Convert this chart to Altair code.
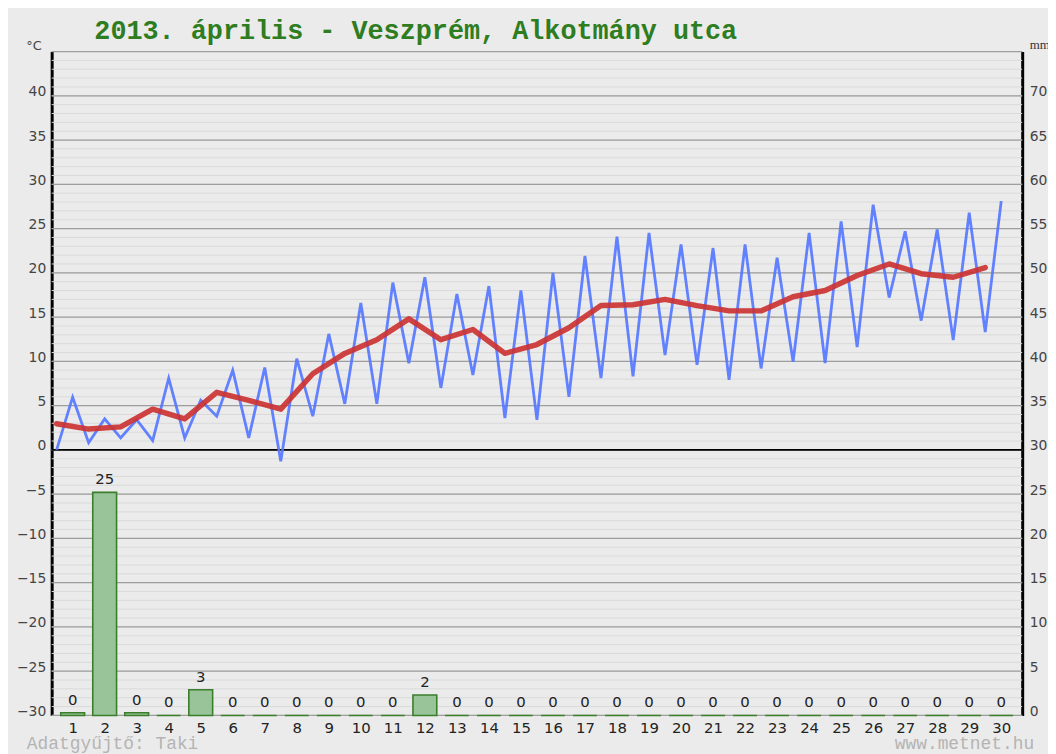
import altair as alt
import pandas as pd

# ---------------- data ----------------
days = list(range(1, 31))

# half-daily temperature readings (°C), alternating lows / highs, 2 per day
temp_halfday = [
    0.0, 5.95, 0.8, 3.5, 1.35, 3.4, 1.05, 8.1, 1.35, 5.6,
    3.8, 9.0, 1.35, 9.3, -1.3, 10.3, 3.8, 13.1, 5.2, 16.6,
    5.2, 18.9, 9.8, 19.5, 7.0, 17.6, 8.45, 18.5, 3.6, 18.0,
    3.4, 20.0, 6.0, 21.9, 8.1, 24.1, 8.3, 24.5, 10.7, 23.2,
    9.6, 22.8, 7.9, 23.2, 9.2, 21.7, 9.95, 24.5, 9.8, 25.8,
    11.6, 27.7, 17.2, 24.7, 14.6, 24.9, 12.4, 26.8, 13.3, 28.1,
]

# daily mean temperature (°C)
temp_mean = [
    2.95, 2.35, 2.6, 4.6, 3.5, 6.5, 5.6, 4.6, 8.6, 10.9,
    12.45, 14.8, 12.45, 13.6, 10.9, 11.9, 13.8, 16.3, 16.4, 17.0,
    16.3, 15.7, 15.7, 17.3, 18.0, 19.7, 21.0, 19.9, 19.5, 20.6,
]

# daily precipitation (mm)
precip_mm = [
    0.3, 25.2, 0.3, 0, 2.9, 0, 0, 0, 0, 0,
    0, 2.3, 0, 0, 0, 0, 0, 0, 0, 0,
    0, 0, 0, 0, 0, 0, 0, 0, 0, 0,
]

left_ticks = list(range(-30, 41, 5))
right_ticks = list(range(0, 71, 5))
grid_minor = list(range(-30, 46))
grid_major = list(range(-30, 46, 5))

title_text = "2013. április - Veszprém, Alkotmány utca"
footer_left = "Adatgyűjtő: Taki"
footer_right = "www.metnet.hu"

blue_df = pd.DataFrame({"t": [i * 0.5 for i in range(len(temp_halfday))], "temp": temp_halfday})
red_df = pd.DataFrame({"day": days, "temp": temp_mean})
bar_df = pd.DataFrame({"day": days, "mm": precip_mm})
minor_df = pd.DataFrame({"v": grid_minor})
major_df = pd.DataFrame({"v": grid_major})
zero_df = pd.DataFrame({"v": [0]})

# ---------------- scales / axes ----------------
x_scale = alt.Scale(domain=[0, 30], nice=False, zero=False)
temp_scale = alt.Scale(domain=[-30, 45], nice=False, zero=False)
mm_scale = alt.Scale(domain=[0, 75], nice=False, zero=False)

x_axis = alt.Axis(
    values=[d - 0.5 for d in days],
    labelExpr="format(datum.value + 0.5, 'd')",
    domain=False, ticks=False, grid=False,
    labelFont="DejaVu Sans", labelFontSize=15, labelColor="#222222",
    labelPadding=5, labelFlush=False, labelOverlap=False, title=None,
)

left_axis = alt.Axis(
    orient="left", values=left_ticks, grid=False, ticks=False,
    domainColor="black", domainWidth=3,
    labelFont="DejaVu Sans", labelFontSize=14, labelColor="#444444",
    labelPadding=6, labelBaseline="alphabetic",
    title="°C", titleAngle=0, titleX=-26, titleY=-2, titleAlign="left",
    titleBaseline="alphabetic", titleFont="DejaVu Sans", titleFontSize=13,
    titleFontWeight="normal", titleColor="#444444",
)

right_axis = alt.Axis(
    orient="right", values=right_ticks, grid=False, ticks=False,
    domainColor="black", domainWidth=3,
    labelFont="DejaVu Sans", labelFontSize=14, labelColor="#444444",
    labelPadding=7, labelBaseline="alphabetic",
    title="mm", titleAngle=0, titleX=7, titleY=-3, titleAlign="left",
    titleBaseline="alphabetic", titleFont="Liberation Serif", titleFontSize=13,
    titleFontWeight="normal", titleColor="#333333",
)

# ---------------- temperature group ----------------
minor_grid = alt.Chart(minor_df).mark_rule(color="#dadada", strokeWidth=1).encode(
    y=alt.Y("v:Q", scale=temp_scale, axis=left_axis)
)
major_grid = alt.Chart(major_df).mark_rule(color="#9e9e9e", strokeWidth=1.3).encode(
    y=alt.Y("v:Q", scale=temp_scale, axis=left_axis)
)
zero_line = alt.Chart(zero_df).mark_rule(color="black", strokeWidth=1.6).encode(
    y=alt.Y("v:Q", scale=temp_scale, axis=left_axis)
)
blue_line = alt.Chart(blue_df).mark_line(
    color="#5577ff", strokeWidth=2.8, opacity=0.92, strokeJoin="miter"
).encode(
    x=alt.X("t:Q", scale=x_scale, axis=x_axis),
    y=alt.Y("temp:Q", scale=temp_scale, axis=left_axis),
)
red_line = alt.Chart(red_df).transform_calculate(pos="datum.day - 1").mark_line(
    color="#cc3333", strokeWidth=5.5, opacity=0.92, strokeCap="round", strokeJoin="round"
).encode(
    x=alt.X("pos:Q", scale=x_scale, axis=x_axis),
    y=alt.Y("temp:Q", scale=temp_scale, axis=left_axis),
)
title_mark = alt.Chart(pd.DataFrame({"s": [title_text]})).mark_text(
    align="left", baseline="alphabetic", font="Liberation Mono", fontSize=27,
    fontWeight="bold", color="#2e7d20"
).encode(x=alt.value(43), y=alt.value(-13), text="s:N")
foot_l = alt.Chart(pd.DataFrame({"s": [footer_left]})).mark_text(
    align="left", baseline="alphabetic", font="Liberation Mono", fontSize=18, color="#b4b4b4"
).encode(x=alt.value(-25), y=alt.value(703), text="s:N")
foot_r = alt.Chart(pd.DataFrame({"s": [footer_right]})).mark_text(
    align="right", baseline="alphabetic", font="Liberation Mono", fontSize=18, color="#b4b4b4"
).encode(x=alt.value(990), y=alt.value(703), text="s:N")

temp_group = alt.layer(minor_grid, major_grid, zero_line, blue_line, red_line,
                       title_mark, foot_l, foot_r)

# ---------------- precipitation group ----------------
bars = alt.Chart(bar_df).transform_calculate(pos="datum.day - 0.5").mark_bar(
    size=24, color="#99c499", stroke="#3a7d2a", strokeWidth=1.6
).encode(
    x=alt.X("pos:Q", scale=x_scale, axis=x_axis),
    y=alt.Y("mm:Q", scale=mm_scale, axis=right_axis),
)
bar_text = alt.Chart(bar_df).transform_calculate(pos="datum.day - 0.5").mark_text(
    baseline="alphabetic", dy=-8, font="DejaVu Sans", fontSize=15, color="#222222"
).encode(
    x=alt.X("pos:Q", scale=x_scale, axis=x_axis),
    y=alt.Y("mm:Q", scale=mm_scale, axis=right_axis),
    text=alt.Text("mm:Q", format=".0f"),
)
mm_group = alt.layer(bars, bar_text)

chart = alt.layer(temp_group, mm_group).resolve_scale(y="independent").properties(
    width=978,
    height=669,
    background="#ebebeb",
    autosize=alt.AutoSizeParams(type="none"),
    padding={"left": 44, "top": 41, "right": 26, "bottom": 36},
).configure_view(strokeWidth=0)

chart.save("out.html", embed_options={"renderer": "svg", "actions": False})
